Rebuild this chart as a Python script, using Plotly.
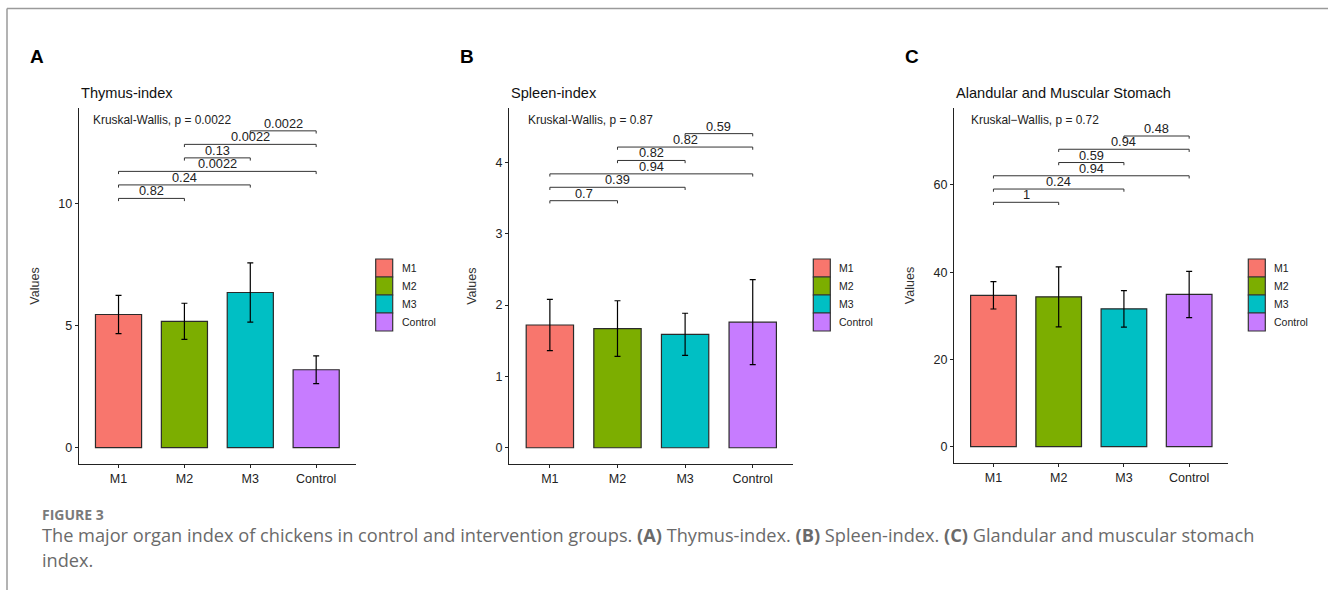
import plotly.graph_objects as go

# ---------------- data ----------------
categories = ["M1", "M2", "M3", "Control"]
bar_colors = ["#F8766D", "#7CAE00", "#00BFC4", "#C77CFF"]

thymus_mean = [5.45, 5.17, 6.35, 3.19]
thymus_sd = [0.78, 0.74, 1.21, 0.57]
spleen_mean = [1.72, 1.67, 1.59, 1.76]
spleen_sd = [0.36, 0.39, 0.295, 0.595]
stomach_mean = [34.7, 34.35, 31.6, 34.9]
stomach_sd = [3.13, 6.87, 4.2, 5.3]

comparisons = [("M1", "M2"), ("M1", "M3"), ("M1", "Control"),
               ("M2", "M3"), ("M2", "Control"), ("M3", "Control")]
thymus_p = ["0.82", "0.24", "0.0022", "0.13", "0.0022", "0.0022"]
spleen_p = ["0.7", "0.39", "0.94", "0.82", "0.82", "0.59"]
stomach_p = ["1", "0.24", "0.94", "0.59", "0.94", "0.48"]
kruskal_text = ["Kruskal-Wallis, p = 0.0022", "Kruskal-Wallis, p = 0.87",
                "Kruskal\u2212Wallis, p = 0.72"]
titles = ["Thymus-index", "Spleen-index", "Alandular and Muscular Stomach"]
panel_letters = ["A", "B", "C"]
y_ticks = [[0, 5, 10], [0, 1, 2, 3, 4], [0, 20, 40, 60]]
bracket_start = [10.2, 3.462, 56.03]
bracket_step = [0.553, 0.188, 3.04]
kw_y = [13.41, 4.593, 74.9]

caption_head = "FIGURE 3"
caption_line1 = ("The major organ index of chickens in control and intervention groups. "
                 "<b>(A)</b> Thymus-index. <b>(B)</b> Spleen-index. <b>(C)</b> Glandular and muscular stomach")
caption_line2 = "index."

# ---------------- layout geometry (pixels) ----------------
W, H = 1328, 590
panels = [
    dict(mean=thymus_mean, sd=thymus_sd, p=thymus_p, x0=79, x1=355.7, top=108, bot=464,
         yr=[-0.667, 13.9], kwx=0.043),
    dict(mean=spleen_mean, sd=spleen_sd, p=spleen_p, x0=509.3, x1=793.3, top=108.3, bot=464,
         yr=[-0.228, 4.757], kwx=0.059),
    dict(mean=stomach_mean, sd=stomach_sd, p=stomach_p, x0=954.3, x1=1228.3, top=108.3, bot=462.7,
         yr=[-3.67, 77.58], kwx=0.054),
]

def px(x):
    return x / W

def py(y):
    return 1 - y / H

CHART_FONT = "Liberation Sans, Arial, sans-serif"
CAP_FONT = "Open Sans, sans-serif"

fig = go.Figure()
shapes = []
annotations = []
xpos = list(range(len(categories)))

for i, pnl in enumerate(panels):
    sfx = "" if i == 0 else str(i + 1)
    xa, ya = "x" + sfx, "y" + sfx
    fig.add_trace(go.Bar(
        x=xpos, y=pnl["mean"], width=0.7,
        marker=dict(color=bar_colors, line=dict(color="#2a2a2a", width=1.2)),
        error_y=dict(type="data", array=pnl["sd"], visible=True, color="black",
                     thickness=1.2, width=3),
        xaxis=xa, yaxis=ya, showlegend=False, hoverinfo="skip"))

    # significance brackets
    span = pnl["yr"][1] - pnl["yr"][0]
    tick = 2.7 / (pnl["bot"] - pnl["top"]) * span
    bx, by = [], []
    for k, (a, b) in enumerate(comparisons):
        ia, ib = categories.index(a), categories.index(b)
        lvl = bracket_start[i] + k * bracket_step[i]
        bx += [ia, ia, ib, ib, None]
        by += [lvl - tick, lvl, lvl, lvl - tick, None]
        annotations.append(dict(x=(ia + ib) / 2, y=lvl, xref=xa, yref=ya, text=pnl["p"][k],
                                showarrow=False, yanchor="middle", yshift=7.5,
                                font=dict(family=CHART_FONT, size=12.8, color="#222")))
    fig.add_trace(go.Scatter(x=bx, y=by, mode="lines", line=dict(color="#333", width=1),
                             xaxis=xa, yaxis=ya, showlegend=False, hoverinfo="skip"))

    # Kruskal-Wallis label
    annotations.append(dict(x=pnl["kwx"], y=kw_y[i], xref=xa + " domain", yref=ya,
                            text=kruskal_text[i], showarrow=False, xanchor="left",
                            yanchor="middle", font=dict(family=CHART_FONT, size=11.9, color="#222")))
    # panel title
    annotations.append(dict(x=px(pnl["x0"]), y=py(93.3), xref="paper", yref="paper",
                            text=titles[i], showarrow=False, xanchor="left", yanchor="middle",
                            font=dict(family=CHART_FONT, size=14.6, color="#111")))
    # panel letter
    annotations.append(dict(x=px(pnl["x0"] - 42), y=py(56.7), xref="paper", yref="paper",
                            text="<b>" + panel_letters[i] + "</b>", showarrow=False,
                            xanchor="center", yanchor="middle",
                            font=dict(family=CHART_FONT, size=19, color="black")))

    # axes
    fig.update_layout(**{
        "xaxis" + sfx: dict(domain=[px(pnl["x0"]), px(pnl["x1"])], anchor=ya, range=[-0.6, 3.6],
                            tickvals=xpos, ticktext=categories, showline=True, linecolor="#222",
                            linewidth=1.3, ticks="outside", ticklen=3, tickwidth=1,
                            tickcolor="#222", showgrid=False, zeroline=False, fixedrange=True,
                            tickfont=dict(family=CHART_FONT, size=12.5, color="#222")),
        "yaxis" + sfx: dict(domain=[py(pnl["bot"]), py(pnl["top"])], anchor=xa, range=pnl["yr"],
                            tickvals=y_ticks[i], showline=True, linecolor="#222", linewidth=1.3,
                            ticks="outside", ticklen=3, tickwidth=1, tickcolor="#222",
                            showgrid=False, zeroline=False, fixedrange=True,
                            tickfont=dict(family=CHART_FONT, size=12.5, color="#222"),
                            title=dict(text="Values", standoff=16,
                                       font=dict(family=CHART_FONT, size=12.5, color="#333"))),
    })

    # legend (manual, ggplot style key boxes)
    lx0 = pnl["x1"] + 20
    for j, cat in enumerate(categories):
        top = 259 + j * 18
        shapes.append(dict(type="rect", xref="paper", yref="paper",
                           x0=px(lx0), x1=px(lx0 + 17), y0=py(top + 18), y1=py(top),
                           fillcolor=bar_colors[j], line=dict(color="#333", width=1.2)))
        annotations.append(dict(x=px(lx0 + 24), y=py(top + 9), xref="paper", yref="paper",
                                text=cat, showarrow=False, xanchor="left", yanchor="middle",
                                font=dict(family=CHART_FONT, size=10.5, color="#222")))

# frame lines
shapes.append(dict(type="line", xref="paper", yref="paper", x0=px(7), x1=1, y0=py(8.5), y1=py(8.5),
                   line=dict(color="#9a9a9a", width=1.5)))
shapes.append(dict(type="line", xref="paper", yref="paper", x0=px(7), x1=px(7), y0=py(8.5), y1=0,
                   line=dict(color="#9a9a9a", width=1.5)))

# caption
annotations.append(dict(x=px(40), y=py(514), xref="paper", yref="paper", text="<b>" + caption_head + "</b>",
                        showarrow=False, xanchor="left", yanchor="middle",
                        font=dict(family=CAP_FONT, size=14, color="#7a7a7a")))
annotations.append(dict(x=px(40), y=py(535), xref="paper", yref="paper", text=caption_line1,
                        showarrow=False, xanchor="left", yanchor="middle",
                        font=dict(family=CAP_FONT, size=18.2, color="#6a6a6a")))
annotations.append(dict(x=px(40), y=py(560), xref="paper", yref="paper", text=caption_line2,
                        showarrow=False, xanchor="left", yanchor="middle",
                        font=dict(family=CAP_FONT, size=18.2, color="#6a6a6a")))

fig.update_layout(width=W, height=H, margin=dict(l=0, r=0, t=0, b=0),
                  paper_bgcolor="white", plot_bgcolor="white",
                  shapes=shapes, annotations=annotations, showlegend=False)

fig.write_html("out.html", config={"displayModeBar": False, "staticPlot": True},
               post_script="document.body.style.margin='0';document.body.style.overflow='hidden';")
